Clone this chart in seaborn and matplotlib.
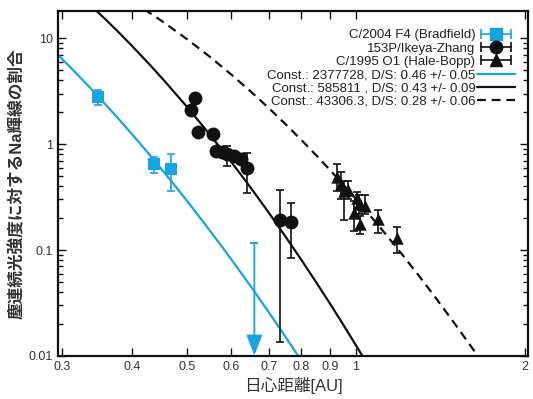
import numpy as np
import pandas as pd
import matplotlib
matplotlib.use("Agg")
import matplotlib.pyplot as plt
import seaborn as sns
from matplotlib.lines import Line2D
from matplotlib.legend_handler import HandlerLine2D, HandlerTuple
from matplotlib.ticker import FixedLocator, FixedFormatter, NullFormatter, LogLocator

# ---------------- data ----------------
# C/2004 F4 (Bradfield)
brad_r = [0.348, 0.438, 0.468]
brad_v = [2.78, 0.65, 0.58]
brad_lo = [2.33, 0.53, 0.36]
brad_hi = [3.23, 0.75, 0.80]
# upper limit point
brad_lim_r = [0.66]
brad_lim_v = [0.117]

# 153P/Ikeya-Zhang
iz_r = [0.518, 0.509, 0.523, 0.557, 0.563, 0.577, 0.590, 0.606, 0.625, 0.641, 0.733, 0.768]
iz_v = [2.73, 2.12, 1.31, 1.25, 0.87, 0.84, 0.80, 0.77, 0.73, 0.60, 0.191, 0.185]
iz_lo = [2.73, 1.95, 1.31, 1.25, 0.80, 0.84, 0.62, 0.70, 0.73, 0.347, 0.0134, 0.0834]
iz_hi = [2.73, 2.30, 1.31, 1.25, 0.94, 0.84, 0.96, 0.84, 0.73, 0.83, 0.365, 0.28]

# C/1995 O1 (Hale-Bopp)
hb_r = [0.925, 0.940, 0.955, 0.970, 1.005, 1.040, 0.995, 1.020, 1.094, 1.185, 1.015]
hb_v = [0.49, 0.42, 0.36, 0.37, 0.31, 0.26, 0.225, 0.175, 0.195, 0.131, 0.27]
hb_lo = [0.36, 0.30, 0.19, 0.30, 0.25, 0.22, 0.15, 0.141, 0.144, 0.094, 0.22]
hb_hi = [0.65, 0.55, 0.45, 0.45, 0.35, 0.33, 0.29, 0.21, 0.237, 0.165, 0.33]

# fitted model curves
fit_brad_r = [0.29, 0.31, 0.33, 0.35, 0.38, 0.41, 0.44, 0.47, 0.50, 0.54, 0.58,
              0.62, 0.66, 0.70, 0.74, 0.79, 0.80]
fit_brad_v = [7.59, 5.33, 3.79, 2.716, 1.680, 1.059, 0.679, 0.443, 0.294, 0.173,
              0.1047, 0.0645, 0.0406, 0.0259, 0.0168, 0.0100, 0.0090]
fit_iz_r = [0.34, 0.36, 0.38, 0.40, 0.43, 0.46, 0.50, 0.54, 0.58, 0.62, 0.66,
            0.70, 0.75, 0.80, 0.85, 0.90, 0.95, 1.00, 1.03]
fit_iz_v = [19.6, 14.71, 11.09, 8.40, 5.60, 3.77, 2.265, 1.383, 0.860, 0.542,
            0.3476, 0.2256, 0.1338, 0.0810, 0.0498, 0.0312, 0.0198, 0.01273, 0.00984]
fit_hb_r = [0.42, 0.45, 0.50, 0.55, 0.60, 0.65, 0.70, 0.75, 0.80, 0.85, 0.90,
            0.95, 1.00, 1.10, 1.20, 1.30, 1.40, 1.50, 1.60, 1.66]
fit_hb_v = [18.76, 14.70, 9.85, 6.67, 4.55, 3.145, 2.192, 1.543, 1.097, 0.787,
            0.570, 0.4156, 0.3056, 0.1690, 0.0961, 0.0561, 0.0334, 0.0203, 0.01262, 0.00955]

labels_obs = ["C/2004 F4 (Bradfield)", "153P/Ikeya-Zhang", "C/1995 O1 (Hale-Bopp)"]
labels_fit = ["Const.: 2377728, D/S: 0.46 +/- 0.05",
              "Const.: 585811 , D/S: 0.43 +/- 0.09",
              "Const.: 43306.3, D/S: 0.28 +/- 0.06"]

xticks = [0.3, 0.4, 0.5, 0.6, 0.7, 0.8, 0.9, 1, 2]
xticklabels = ["0.3", "0.4", "0.5", "0.6", "0.7", "0.8", "0.9", "1", "2"]
yticks = [0.01, 0.1, 1, 10]
yticklabels = ["0.01", "0.1", "1", "10"]

xlabel = "日心距離[AU]"
ylabel = "塵連続光強度に対するNa輝線の割合"

BLUE = "#16a5de"
BLACK = "#111111"

# ---------------- style ----------------
sns.set_style("ticks")
plt.rcParams['font.family'] = ['Liberation Sans', 'Noto Sans CJK JP', 'DejaVu Sans']

fig = plt.figure(figsize=(5.33, 3.99), dpi=100)
ax = fig.add_axes([0.109, 0.108, 0.882, 0.864])
ax.set_xscale("log")
ax.set_yscale("log")

# fits
df_fit = pd.concat([
    pd.DataFrame({"r": fit_brad_r, "v": fit_brad_v, "s": labels_fit[0]}),
    pd.DataFrame({"r": fit_iz_r, "v": fit_iz_v, "s": labels_fit[1]}),
    pd.DataFrame({"r": fit_hb_r, "v": fit_hb_v, "s": labels_fit[2]}),
])
sns.lineplot(data=df_fit[df_fit.s == labels_fit[0]], x="r", y="v", sort=False,
             estimator=None, color=BLUE, lw=1.6, ax=ax, legend=False)
sns.lineplot(data=df_fit[df_fit.s == labels_fit[1]], x="r", y="v", sort=False,
             estimator=None, color=BLACK, lw=1.6, ax=ax, legend=False)
sns.lineplot(data=df_fit[df_fit.s == labels_fit[2]], x="r", y="v", sort=False,
             estimator=None, color=BLACK, lw=1.6, ax=ax, legend=False)
ax.lines[-1].set_dashes([4, 2.6])

def eb(r, v, lo, hi, color, marker, ms):
    r = np.array(r); v = np.array(v)
    yerr = np.vstack([v - np.array(lo), np.array(hi) - v])
    ax.errorbar(r, v, yerr=yerr, fmt="none", ecolor=color, elinewidth=1.2,
                capsize=3, capthick=1.2, zorder=3)
    sns.scatterplot(x=r, y=v, marker=marker, s=ms, color=color,
                    edgecolor=color, linewidth=0, ax=ax, zorder=4, legend=False)

eb(brad_r, brad_v, brad_lo, brad_hi, BLUE, "s", 80)
eb(iz_r, iz_v, iz_lo, iz_hi, BLACK, "o", 100)
eb(hb_r, hb_v, hb_lo, hb_hi, BLACK, "^", 80)

# upper limit with arrow
for r, v in zip(brad_lim_r, brad_lim_v):
    ax.annotate("", xy=(r, 0.0101), xytext=(r, v),
                arrowprops=dict(arrowstyle="-|>,head_length=0.9,head_width=0.35",
                                color=BLUE, lw=1.3, shrinkA=0, shrinkB=0,
                                mutation_scale=14), zorder=3)
    ax.errorbar([r], [v], yerr=[[0], [0]], fmt="none", ecolor=BLUE,
                capsize=3, capthick=1.2, zorder=3)

ax.set_xlim(0.295, 2.03)
ax.set_ylim(0.01, 18)

ax.xaxis.set_major_locator(FixedLocator(xticks))
ax.xaxis.set_major_formatter(FixedFormatter(xticklabels))
ax.xaxis.set_minor_locator(FixedLocator([]))
ax.yaxis.set_major_locator(FixedLocator(yticks))
ax.yaxis.set_major_formatter(FixedFormatter(yticklabels))
ax.yaxis.set_minor_locator(LogLocator(base=10, subs=np.arange(2, 10)))
ax.yaxis.set_minor_formatter(NullFormatter())

ax.tick_params(which="both", direction="in", top=True, right=True,
               colors=BLACK, labelcolor="#333333", labelsize=9, width=1.0)
ax.tick_params(which="major", length=6)
ax.tick_params(which="minor", length=3.5)
for s in ax.spines.values():
    s.set_linewidth(1.6)
    s.set_color(BLACK)

ax.set_xlabel(xlabel, fontsize=12, color="#333333", labelpad=3)
ax.set_ylabel(ylabel, fontsize=12, color="#333333", fontweight="bold", labelpad=3)

# legend with proxy handles
def obs_handle(color, marker, ms):
    cap = Line2D([], [], color=color, lw=1.2, marker="|", ms=7, mew=1.2)
    mk = Line2D([], [], color=color, lw=0, marker=marker, ms=ms)
    return (cap, mk), cap, mk

handles = []
hmap = {}
for color, marker, ms in [(BLUE, "s", 8.5), (BLACK, "o", 9), (BLACK, "^", 8)]:
    h, cap, mk = obs_handle(color, marker, ms)
    handles.append(h)
    hmap[cap] = HandlerLine2D(numpoints=2)
    hmap[mk] = HandlerLine2D(numpoints=1)
handles.append(Line2D([], [], color=BLUE, lw=1.6))
handles.append(Line2D([], [], color=BLACK, lw=1.6))
handles.append(Line2D([], [], color=BLACK, lw=1.6, dashes=[4, 2.6]))
hmap[tuple] = HandlerTuple(ndivide=1)

leg = ax.legend(handles, labels_obs + labels_fit, loc="upper right",
                bbox_to_anchor=(0.983, 0.963), markerfirst=False, frameon=False,
                fontsize=9.5, handlelength=2.9, handletextpad=0.1,
                labelspacing=0.08, borderaxespad=0, handler_map=hmap)
for t in leg.get_texts():
    t.set_color("#222222")

fig.savefig("out.png", dpi=100)
